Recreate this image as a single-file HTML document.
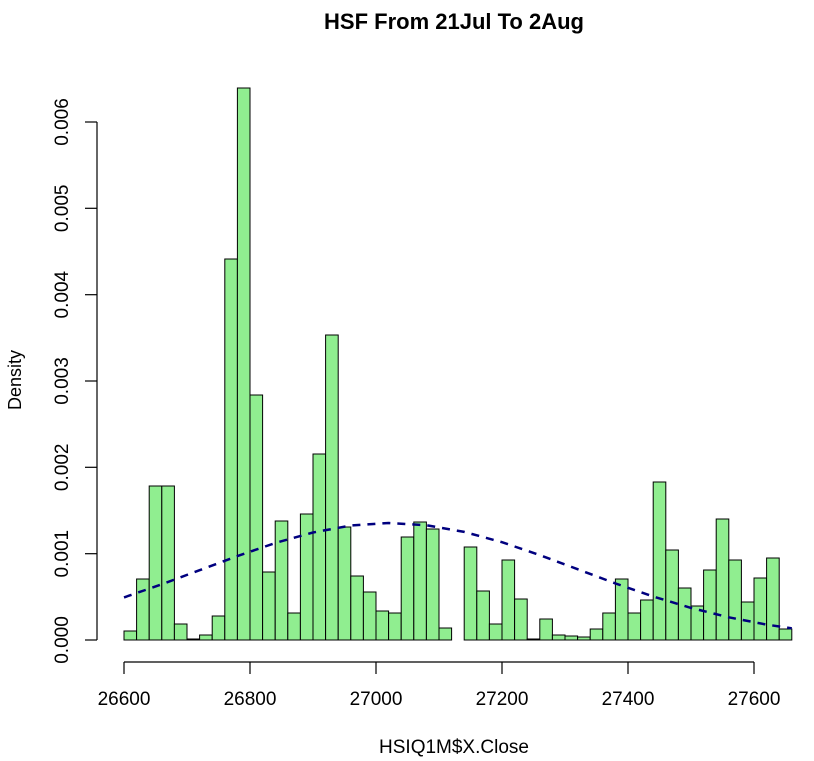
<!DOCTYPE html>
<html><head><style>body{margin:0;background:#fff}svg{display:block}text{font-family:"Liberation Sans",Arial,sans-serif;fill:#000}</style></head><body>
<svg width="814" height="761" xmlns="http://www.w3.org/2000/svg">
<rect width="814" height="761" fill="#fff"/>
<text x="454" y="29" font-size="22" font-weight="bold" text-anchor="middle">HSF From 21Jul To 2Aug</text>
<text x="454" y="753" font-size="19" text-anchor="middle">HSIQ1M$X.Close</text>
<text transform="translate(21,380) rotate(-90)" font-size="18" text-anchor="middle">Density</text>
<g stroke="#000" stroke-width="1.2" fill="none">
<line x1="124" y1="662" x2="754" y2="662"/>
<line x1="124" y1="662" x2="124" y2="674"/><line x1="250" y1="662" x2="250" y2="674"/><line x1="376" y1="662" x2="376" y2="674"/><line x1="502" y1="662" x2="502" y2="674"/><line x1="628" y1="662" x2="628" y2="674"/><line x1="754" y1="662" x2="754" y2="674"/>
<line x1="97" y1="640" x2="97" y2="122"/>
<line x1="97" y1="640" x2="85" y2="640"/><line x1="97" y1="553.7" x2="85" y2="553.7"/><line x1="97" y1="467.3" x2="85" y2="467.3"/><line x1="97" y1="381" x2="85" y2="381"/><line x1="97" y1="294.7" x2="85" y2="294.7"/><line x1="97" y1="208.3" x2="85" y2="208.3"/><line x1="97" y1="122" x2="85" y2="122"/>
</g>
<g font-size="19" text-anchor="middle">
<text x="124" y="705">26600</text><text x="250" y="705">26800</text><text x="376" y="705">27000</text><text x="502" y="705">27200</text><text x="628" y="705">27400</text><text x="754" y="705">27600</text>
<text transform="translate(68,640) rotate(-90)">0.000</text>
<text transform="translate(68,553.7) rotate(-90)">0.001</text>
<text transform="translate(68,467.3) rotate(-90)">0.002</text>
<text transform="translate(68,381) rotate(-90)">0.003</text>
<text transform="translate(68,294.7) rotate(-90)">0.004</text>
<text transform="translate(68,208.3) rotate(-90)">0.005</text>
<text transform="translate(68,122) rotate(-90)">0.006</text>
</g>
<g fill="#90ee90" stroke="#000" stroke-width="1">
<rect x="124" y="631" width="12.6" height="9"/>
<rect x="136.6" y="579" width="12.6" height="61"/>
<rect x="149.2" y="486" width="12.6" height="154"/>
<rect x="161.8" y="486" width="12.6" height="154"/>
<rect x="174.4" y="624" width="12.6" height="16"/>
<rect x="187" y="639" width="12.6" height="1"/>
<rect x="199.6" y="635" width="12.6" height="5"/>
<rect x="212.2" y="616" width="12.6" height="24"/>
<rect x="224.8" y="259" width="12.6" height="381"/>
<rect x="237.4" y="88" width="12.6" height="552"/>
<rect x="250" y="395" width="12.6" height="245"/>
<rect x="262.6" y="572" width="12.6" height="68"/>
<rect x="275.2" y="521" width="12.6" height="119"/>
<rect x="287.8" y="613" width="12.6" height="27"/>
<rect x="300.4" y="514" width="12.6" height="126"/>
<rect x="313" y="454" width="12.6" height="186"/>
<rect x="325.6" y="335" width="12.6" height="305"/>
<rect x="338.2" y="527" width="12.6" height="113"/>
<rect x="350.8" y="576" width="12.6" height="64"/>
<rect x="363.4" y="592" width="12.6" height="48"/>
<rect x="376" y="611" width="12.6" height="29"/>
<rect x="388.6" y="613" width="12.6" height="27"/>
<rect x="401.2" y="537" width="12.6" height="103"/>
<rect x="413.8" y="522" width="12.6" height="118"/>
<rect x="426.4" y="529" width="12.6" height="111"/>
<rect x="439" y="628" width="12.6" height="12"/>
<rect x="464.2" y="547" width="12.6" height="93"/>
<rect x="476.8" y="591" width="12.6" height="49"/>
<rect x="489.4" y="624" width="12.6" height="16"/>
<rect x="502" y="560" width="12.6" height="80"/>
<rect x="514.6" y="599" width="12.6" height="41"/>
<rect x="527.2" y="639" width="12.6" height="1"/>
<rect x="539.8" y="619" width="12.6" height="21"/>
<rect x="552.4" y="635" width="12.6" height="5"/>
<rect x="565" y="636" width="12.6" height="4"/>
<rect x="577.6" y="637" width="12.6" height="3"/>
<rect x="590.2" y="629" width="12.6" height="11"/>
<rect x="602.8" y="613" width="12.6" height="27"/>
<rect x="615.4" y="579" width="12.6" height="61"/>
<rect x="628" y="613" width="12.6" height="27"/>
<rect x="640.6" y="600" width="12.6" height="40"/>
<rect x="653.2" y="482" width="12.6" height="158"/>
<rect x="665.8" y="550" width="12.6" height="90"/>
<rect x="678.4" y="588" width="12.6" height="52"/>
<rect x="691" y="606" width="12.6" height="34"/>
<rect x="703.6" y="570" width="12.6" height="70"/>
<rect x="716.2" y="519" width="12.6" height="121"/>
<rect x="728.8" y="560" width="12.6" height="80"/>
<rect x="741.4" y="602" width="12.6" height="38"/>
<rect x="754" y="578" width="12.6" height="62"/>
<rect x="766.6" y="558" width="12.6" height="82"/>
<rect x="779.2" y="629" width="12.6" height="11"/>
</g>
<polyline fill="none" stroke="#00007f" stroke-width="2.5" stroke-dasharray="8,7" points="124,597.4 161.8,584.3 199.6,570.2 237.4,556.1 275.2,543 313,532.5 350.8,525.5 388.6,523 426.4,525.2 464.2,531.9 502,542.2 539.8,555.1 577.6,569.2 615.4,583.4 653.2,596.5 691,607.9 728.8,617.3 766.6,624.6 791.8,628.3"/>
</svg>
</body></html>
